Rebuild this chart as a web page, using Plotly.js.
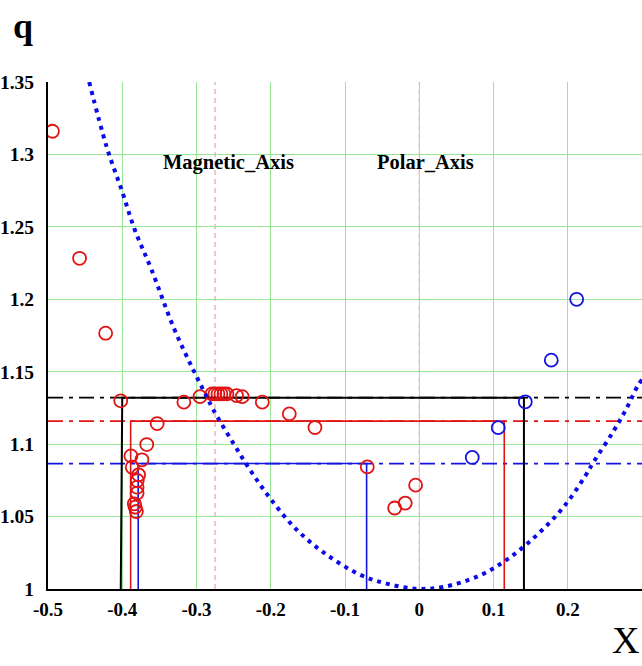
<!DOCTYPE html>
<html>
<head>
<meta charset="utf-8">
<script src="https://cdn.plot.ly/plotly-3.0.1.min.js"></script>
<style>html,body{margin:0;padding:0;background:#fff;}#chart{width:642px;height:666px;}</style>
</head>
<body>
<div id="chart"></div>
<script>
// ---- data ----
const xTickVals = [-0.5, -0.4, -0.3, -0.2, -0.1, 0, 0.1, 0.2];
const xTickText = ['-0.5', '-0.4', '-0.3', '-0.2', '-0.1', '0', '0.1', '0.2'];
const yTickVals = [1, 1.05, 1.1, 1.15, 1.2, 1.25, 1.3, 1.35];
const yTickText = ['1', '1.05', '1.1', '1.15', '1.2', '1.25', '1.3', '1.35'];

const redX = [-0.494, -0.4575, -0.4224, -0.402, -0.317, -0.2953,
  -0.2792, -0.2752, -0.2711, -0.2671, -0.2630, -0.2590,
  -0.246, -0.2384, -0.2114, -0.175, -0.1405,
  -0.353, -0.367, -0.3883, -0.3735, -0.3865, -0.378, -0.3798, -0.380, -0.380,
  -0.3838, -0.3825, -0.381,
  -0.070, -0.0049, -0.0189, -0.0331];
const redQ = [1.316, 1.2283, 1.1766, 1.1299, 1.129, 1.1328,
  1.1347, 1.1347, 1.1347, 1.1347, 1.1347, 1.1347,
  1.1335, 1.1328, 1.129, 1.1209, 1.1115,
  1.1142, 1.0997, 1.0919, 1.0892, 1.0841, 1.0788, 1.0749, 1.0703, 1.0662,
  1.0588, 1.0565, 1.0535,
  1.0843, 1.0717, 1.0593, 1.0559];

const blueX = [0.0714, 0.1064, 0.1428, 0.1778, 0.212];
const blueQ = [1.0908, 1.1114, 1.1292, 1.158, 1.2];

const curveX = [-0.4445, -0.421, -0.4008, -0.383, -0.3604, -0.3313, -0.3065, -0.2863, -0.2774, -0.2505, -0.228,
  -0.2011, -0.1651, -0.1247, -0.0799, -0.0439, -0.0035, 0.0323, 0.0818, 0.12, 0.16, 0.195, 0.2232, 0.2343,
  0.2613, 0.2793, 0.2949, 0.3];
const curveQ = [1.35, 1.3052, 1.2754, 1.2478, 1.2202, 1.1811, 1.1535, 1.1328, 1.1237, 1.1007, 1.0823,
  1.0628, 1.0409, 1.0237, 1.0099, 1.0037, 1.0002, 1.0014, 1.0094, 1.021, 1.038, 1.057, 1.0777, 1.0873,
  1.1087, 1.1248, 1.1409, 1.1445];

// levels (horizontal dash-dot lines) and rectangle bounds
const boxNames = ['black', 'red', 'blue'];
const boxLevel = [1.1321, 1.1159, 1.0866];
const boxLeftBottom = [-0.402, -0.3887, -0.3785];
const boxLeftTop = [-0.400, -0.3887, -0.3785];
const boxRight = [0.141, 0.1145, -0.0709];

const axisX = [-0.275, 0];
const axisLabels = ['Magnetic_Axis', 'Polar_Axis'];

// ---- styles ----
const boxColors = {black: '#000000', red: 'rgb(225,20,20)', blue: 'rgb(20,20,225)'};
const boxWidths = {black: 2, red: 1.6, blue: 1.6};
const X0 = -0.5, X1 = 0.3, Y0 = 1, Y1 = 1.35;

const traces = [];
boxNames.forEach((n, i) => {
  traces.push({x: [X0, X1], y: [boxLevel[i], boxLevel[i]], mode: 'lines', hoverinfo: 'skip',
    line: {color: boxColors[n], width: 1.8, dash: '15px,6px,4px,6px'}, showlegend: false});
});
boxNames.forEach((n, i) => {
  traces.push({x: [boxLeftBottom[i], boxLeftTop[i], boxRight[i], boxRight[i]],
    y: [Y0, boxLevel[i], boxLevel[i], Y0], mode: 'lines', hoverinfo: 'skip',
    line: {color: boxColors[n], width: boxWidths[n]}, showlegend: false});
});
traces.push({x: redX, y: redQ, mode: 'markers', showlegend: false,
  marker: {symbol: 'circle-open', size: 13, color: 'rgb(225,20,20)', line: {width: 1.8}}});
traces.push({x: blueX, y: blueQ, mode: 'markers', showlegend: false,
  marker: {symbol: 'circle-open', size: 13, color: 'rgb(20,20,225)', line: {width: 1.8}}});
traces.push({x: curveX, y: curveQ, mode: 'lines', line: {shape: 'spline', color: 'rgb(10,10,235)', width: 4, dash: '4px,5px'},
  showlegend: false, hoverinfo: 'skip'});

const serif = 'Liberation Serif, Times New Roman, serif';
const shapes = axisX.map(v => ({type: 'line', xref: 'x', yref: 'paper', x0: v, x1: v, y0: 0, y1: 1,
  line: {color: 'rgb(220,150,150)', width: 1, dash: '5px,4px'}, layer: 'below'}));

const annotations = axisLabels.map((t, i) => ({text: t, xref: 'paper', yref: 'paper',
  x: i === 0 ? (228 - 48) / 594 : (425 - 48) / 594, y: (589 - 162) / 507, showarrow: false,
  font: {family: serif, size: 20.5, color: '#000', weight: 'bold'}, xanchor: 'center', yanchor: 'middle'}));
annotations.push({text: 'q', xref: 'paper', yref: 'paper', x: (23 - 48) / 594, y: (589 - 26) / 507,
  showarrow: false, font: {family: serif, size: 36, color: '#000', weight: 'bold'}, xanchor: 'center', yanchor: 'middle'});
annotations.push({text: 'X', xref: 'paper', yref: 'paper', x: (625 - 48) / 594, y: (589 - 640) / 507,
  showarrow: false, font: {family: serif, size: 38, color: '#000'}, xanchor: 'center', yanchor: 'middle'});

const layout = {
  width: 642, height: 666,
  margin: {l: 48, r: 0, t: 82, b: 77, pad: 0},
  paper_bgcolor: '#fff', plot_bgcolor: '#fff',
  xaxis: {range: [X0, X1], tickvals: xTickVals, ticktext: xTickText, showgrid: true,
    gridcolor: 'rgb(150,230,150)', gridwidth: 1, zeroline: false, showline: true, linecolor: '#000', linewidth: 2,
    ticks: '', ticklabelstandoff: 2, tickfont: {family: serif, size: 19, color: '#000', weight: 'bold'}, fixedrange: true},
  yaxis: {range: [Y0, Y1], tickvals: yTickVals, ticktext: yTickText, showgrid: true,
    gridcolor: 'rgb(150,230,150)', gridwidth: 1, zeroline: false, showline: true, linecolor: '#000', linewidth: 2,
    mirror: true, ticks: '', ticklabelstandoff: 8, tickfont: {family: serif, size: 19.5, color: '#000', weight: 'bold'}, fixedrange: true},
  shapes: shapes,
  annotations: annotations,
  showlegend: false
};

Plotly.newPlot('chart', traces, layout, {displayModeBar: false, staticPlot: true});
</script>
</body>
</html>
